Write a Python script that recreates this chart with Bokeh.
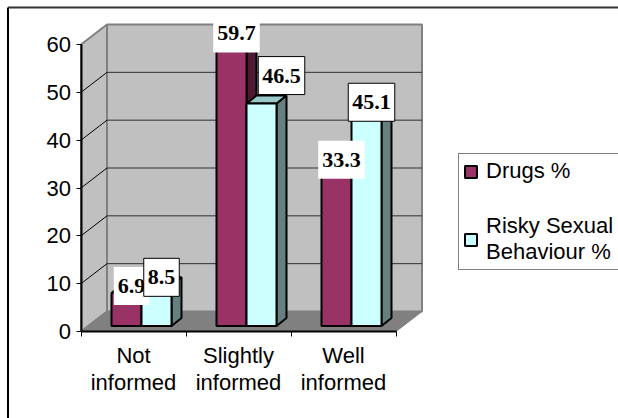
from bokeh.plotting import figure
from bokeh.models import (Range1d, FixedTicker, Legend, LegendItem, LinearAxis)
from bokeh.core.properties import value
from bokeh.embed import file_html
from bokeh.resources import INLINE

categories = ["Not\ninformed", "Slightly\ninformed", "Well\ninformed"]
drugs = [6.9, 59.7, 33.3]
risky = [8.5, 46.5, 45.1]
y_ticks = [0, 10, 20, 30, 40, 50, 60]
series_names = ["Drugs %", "Risky Sexual\nBehaviour %"]

MAGENTA, MAG_DK = "#993366", "#4D1A33"
CYAN, CYAN_TOP, CYAN_DK = "#CCFFFF", "#99C8C8", "#668080"
WALL, FLOOR = "#C0C0C0", "#808080"

W, H = 618, 418
X0_PX, Y0_PX = 80.5, 331              # canvas position of the data origin
PX_X, PX_Y = 105.0, 287.0 / 60.0      # pixels per data unit
DX, DY = 26 / PX_X, 20 / PX_Y         # chart depth
BX, BY = 10 / PX_X, 8 / PX_Y          # bar depth
SX, SY = 5.5 / PX_X, 5.5 / PX_Y       # bar front offset on the floor
GAP, BW = 25 / PX_X, 30 / PX_X

x_lo, x_hi = -X0_PX / PX_X, (W - X0_PX) / PX_X
y_lo, y_hi = -(H - Y0_PX) / PX_Y, Y0_PX / PX_Y
p = figure(width=W, height=H, output_backend="svg", toolbar_location=None,
           x_range=Range1d(x_lo, x_hi), y_range=Range1d(y_lo, y_hi), min_border=0)
p.outline_line_color = None
p.grid.visible = False
p.xaxis.visible = False
p.yaxis.visible = False

# chart-area border: only its left and top edges fall inside the picture
bx, by = x_lo + 7.5 / PX_X, y_hi - 7 / PX_Y
p.segment([bx], [by], [bx], [y_lo], line_color="#000000", line_width=2)
p.segment([bx], [by], [x_hi], [by], line_color="#333333", line_width=2)

n = len(categories)
p.patch([0, DX, DX, 0], [0, DY, 60 + DY, 60], fill_color=WALL, line_color=FLOOR, line_width=2)
p.patch([DX, n + DX, n + DX, DX], [DY, DY, 60 + DY, 60 + DY], fill_color=WALL, line_color=FLOOR, line_width=2)
p.patch([0, DX, n + DX, n], [0, DY, DY, 0], fill_color=FLOOR, line_color=FLOOR, line_width=1)
grid = y_ticks[1:-1]
p.segment([DX] * len(grid), [g + DY for g in grid], [n + DX] * len(grid), [g + DY for g in grid],
          line_color="#303030", line_width=1)
p.segment([0] * len(grid), grid, [DX] * len(grid), [g + DY for g in grid],
          line_color="#000000", line_width=1)


def bar(x0, v, front, top, side):
    x1 = x0 + BW
    y0, y1 = SY, SY + v
    p.patch([x1, x1 + BX, x1 + BX, x1], [y0, y0 + BY, y1 + BY, y1], fill_color=side,
            line_color="#000000", line_width=2)
    p.patch([x0, x0 + BX, x1 + BX, x1], [y1, y1 + BY, y1 + BY, y1], fill_color=top,
            line_color="#000000", line_width=2)
    return p.quad(left=[x0], right=[x1], bottom=[y0], top=[y1], fill_color=front,
                  line_color="#000000", line_width=2)


r_d = r_r = None
for i in range(n):
    x0 = i + SX + GAP
    r_d = bar(x0, drugs[i], MAGENTA, MAG_DK, MAG_DK)
    r_r = bar(x0 + BW, risky[i], CYAN, CYAN_TOP, CYAN_DK)

lab_font = dict(text_font=value("Liberation Serif"), text_font_style="bold",
                text_font_size="22px", text_align="center", text_baseline="middle",
                text_color="#000000", background_fill_color="#FFFFFF", padding=(4, 12))


def labels(vals, off, dxs, dys, boxed):
    for i, v in enumerate(vals):
        x = i + SX + GAP + off + BW / 2
        kw = dict(border_line_color="#000000", border_line_width=1) if boxed[i] else {}
        p.text([x], [SY + v], text=[f"{v}"], x_offset=dxs[i], y_offset=dys[i], **lab_font, **kw)


labels(drugs, 0, [5, 5, 5], [-7, -7, -7], [False, False, False])
labels(risky, BW, [5, 20, 5], [-8, -28, -8], [True, True, True])

ya = LinearAxis(ticker=FixedTicker(ticks=y_ticks), bounds=(0, 60), fixed_location=0)
ya.axis_line_color = "#000000"; ya.axis_line_width = 2
ya.major_tick_line_color = "#000000"; ya.major_tick_line_width = 1
ya.major_tick_in = 0; ya.major_tick_out = 5; ya.minor_tick_line_color = None
ya.major_label_text_font = "Liberation Sans"; ya.major_label_text_font_size = "22px"
ya.major_label_text_color = "#000000"; ya.major_label_standoff = 5
p.add_layout(ya, "left")

xa = LinearAxis(ticker=FixedTicker(ticks=[0.5, 1.5, 2.5], minor_ticks=[0, 1, 2, 3]), bounds=(0, 3),
                fixed_location=0)
xa.major_label_overrides = {0.5: categories[0], 1.5: categories[1], 2.5: categories[2]}
xa.axis_line_color = "#000000"; xa.axis_line_width = 2
xa.major_tick_line_color = None; xa.major_tick_in = 0; xa.major_tick_out = 5
xa.minor_tick_line_color = "#000000"; xa.minor_tick_in = 0; xa.minor_tick_out = 5
xa.major_label_text_font = "Liberation Sans"; xa.major_label_text_font_size = "22px"
xa.major_label_text_color = "#000000"; xa.major_label_standoff = 6
xa.major_label_text_line_height = 1.1
p.add_layout(xa, "below")

legend = Legend(items=[LegendItem(label=value(series_names[0]), renderers=[r_d]),
                       LegendItem(label=value(series_names[1]), renderers=[r_r])],
                location=(458, 148), orientation="vertical")
legend.border_line_color = "#000000"; legend.border_line_width = 1
legend.background_fill_color = "#FFFFFF"; legend.background_fill_alpha = 1
legend.label_text_font = "Liberation Sans"; legend.label_text_font_size = "22px"
legend.label_text_color = "#000000"; legend.label_text_line_height = 1.1
legend.glyph_width = 15; legend.glyph_height = 15
legend.spacing = 29; legend.padding = 4; legend.margin = 0; legend.label_standoff = 8
legend.label_width = 160
p.add_layout(legend, "center")

open("out.html", "w").write(file_html(p, INLINE))
